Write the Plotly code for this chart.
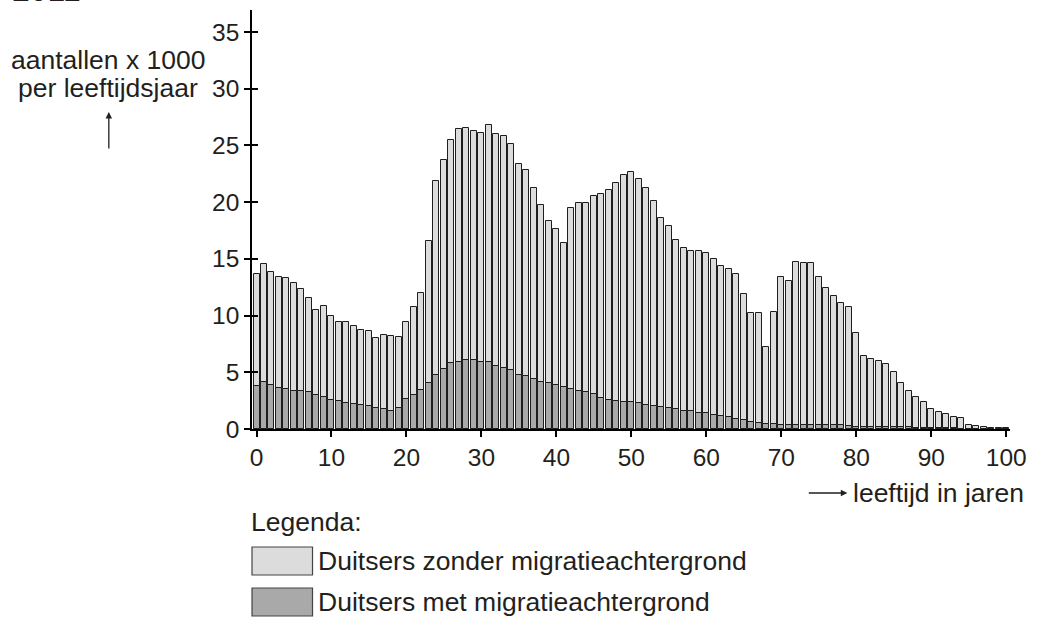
import plotly.graph_objects as go

ages = list(range(0, 101))

zonder = [
    13.66, 14.52, 13.81, 13.40, 13.31, 12.90, 12.34, 11.52, 10.52, 10.81,
    9.93, 9.40, 9.40, 9.08, 8.70, 8.61, 8.02, 8.26, 8.17, 8.08,
    9.40, 10.72, 12.02, 16.57, 21.89, 23.69, 25.51, 26.42, 26.56, 26.30,
    26.07, 26.77, 25.98, 25.86, 25.13, 23.39, 22.86, 21.27, 19.72, 18.31,
    17.63, 16.43, 19.51, 19.92, 19.92, 20.51, 20.69, 21.07, 21.72, 22.39,
    22.63, 22.07, 21.25, 20.13, 18.63, 17.93, 16.63, 15.98, 15.66, 15.66,
    15.49, 14.96, 14.40, 14.08, 13.64, 11.93, 10.25, 10.25, 7.20, 10.34,
    13.43, 13.05, 14.72, 14.66, 14.66, 13.43, 12.43, 11.70, 11.08, 10.76,
    8.49, 6.44, 6.17, 6.02, 5.70, 5.05, 4.06, 3.38, 2.82, 2.35,
    1.79, 1.47, 1.35, 1.09, 0.94, 0.35, 0.25, 0.15, 0.12, 0.10,
    0.08,
]

met = [
    3.76, 4.11, 3.88, 3.64, 3.53, 3.35, 3.35, 3.23, 2.97, 2.79,
    2.53, 2.50, 2.29, 2.20, 2.15, 2.03, 1.88, 1.73, 1.56, 1.88,
    2.63, 2.98, 3.45, 4.05, 4.79, 5.29, 5.79, 5.94, 6.05, 6.08,
    5.91, 5.91, 5.53, 5.41, 5.17, 4.79, 4.70, 4.38, 4.17, 4.03,
    3.88, 3.67, 3.53, 3.38, 3.23, 3.06, 2.71, 2.56, 2.50, 2.41,
    2.41, 2.32, 2.15, 2.03, 1.97, 1.85, 1.79, 1.59, 1.56, 1.44,
    1.38, 1.21, 1.15, 1.09, 0.91, 0.75, 0.62, 0.57, 0.48, 0.40,
    0.38, 0.38, 0.38, 0.38, 0.38, 0.38, 0.38, 0.35, 0.32, 0.26,
    0.21, 0.20, 0.18, 0.15, 0.15, 0.15, 0.15, 0.15, 0.12, 0.10,
    0.08, 0.07, 0.06, 0.05, 0.04, 0.03, 0.02, 0.02, 0.02, 0.02,
    0.02,
]

x_ticks = [0, 10, 20, 30, 40, 50, 60, 70, 80, 90, 100]
y_ticks = [0, 5, 10, 15, 20, 25, 30, 35]

name_zonder = "Duitsers zonder migratieachtergrond"
name_met = "Duitsers met migratieachtergrond"

LIGHT = "#dcdcdc"
DARK = "#a9a9a9"
EDGE = "#1e1e1e"
TXT = "#231f20"
FONT = "Liberation Sans, Arial, sans-serif"
TS = 26.5  # annotation text size

W, H = 1037, 619
L, R, T, B = 252, 21, 10, 190
PW, PH = W - L - R, H - T - B


def px(xp):
    return (xp - L) / PW


def py(yp):
    return (H - B - yp) / PH


fig = go.Figure()
fig.add_trace(go.Bar(x=ages, y=zonder, name=name_zonder, width=0.8,
                     marker=dict(color=LIGHT, line=dict(color=EDGE, width=1)),
                     showlegend=False))
fig.add_trace(go.Bar(x=ages, y=met, name=name_met, width=0.8,
                     marker=dict(color=DARK, line=dict(color=EDGE, width=1)),
                     showlegend=False))
# helper trace so the inner-tick axis is drawn
fig.add_trace(go.Scatter(x=[None], y=[None], yaxis="y2", showlegend=False,
                         hoverinfo="skip"))

fig.update_layout(
    width=W, height=H, autosize=False,
    margin=dict(l=L, r=R, t=T, b=B, pad=0),
    paper_bgcolor="white", plot_bgcolor="white",
    barmode="overlay", bargap=0,
    font=dict(family=FONT, size=TS, color=TXT),
    xaxis=dict(range=[-0.6, 100.5], tickvals=x_ticks, ticks="outside",
               ticklen=6, tickwidth=1.5, tickcolor="black",
               showline=True, linecolor="black", linewidth=1.5,
               showgrid=False, zeroline=False, tickfont=dict(size=24.5)),
    yaxis=dict(range=[0, 36.94], tickvals=y_ticks, ticks="outside",
               ticklen=6, tickwidth=1.5, tickcolor="black",
               showline=True, linecolor="black", linewidth=1.5,
               showgrid=False, zeroline=False, tickfont=dict(size=24.5)),
    yaxis2=dict(range=[0, 36.94], tickvals=y_ticks, ticks="inside",
                ticklen=6, tickwidth=1.5, tickcolor="black",
                overlaying="y", side="left", showticklabels=False,
                showline=False, showgrid=False, zeroline=False),
)

ann = []
# partially cut title at the very top
ann.append(dict(text="2011", xref="paper", yref="paper", x=px(8), y=py(-10),
                xanchor="left", yanchor="middle", showarrow=False,
                font=dict(size=32)))
ann.append(dict(text="aantallen x 1000", xref="paper", yref="paper",
                x=px(107), y=py(60), xanchor="center", yanchor="middle",
                showarrow=False))
ann.append(dict(text="per leeftijdsjaar", xref="paper", yref="paper",
                x=px(107), y=py(88), xanchor="center", yanchor="middle",
                showarrow=False))
# up arrow
ann.append(dict(text="", xref="paper", yref="paper", x=px(107.7), y=py(112),
                ax=0, ay=38, showarrow=True, arrowhead=2, arrowsize=1,
                arrowwidth=1.3, arrowcolor=TXT))
# right arrow + x label
ann.append(dict(text="", xref="paper", yref="paper", x=px(852), y=py(493),
                ax=-40, ay=0, showarrow=True, arrowhead=2, arrowsize=1,
                arrowwidth=1.3, arrowcolor=TXT))
ann.append(dict(text="leeftijd in jaren", xref="paper", yref="paper",
                x=px(856), y=py(493), xanchor="left", yanchor="middle",
                showarrow=False))
ann.append(dict(text="Legenda:", xref="paper", yref="paper",
                x=px(249), y=py(522), xanchor="left", yanchor="middle",
                showarrow=False))
ann.append(dict(text=name_zonder, xref="paper", yref="paper",
                x=px(317), y=py(561), xanchor="left", yanchor="middle",
                showarrow=False))
ann.append(dict(text=name_met, xref="paper", yref="paper",
                x=px(317), y=py(602), xanchor="left", yanchor="middle",
                showarrow=False))

shapes = [
    dict(type="rect", xref="paper", yref="paper", x0=px(252), x1=px(313),
         y0=py(575), y1=py(547), fillcolor=LIGHT,
         line=dict(color="#444444", width=1.2)),
    dict(type="rect", xref="paper", yref="paper", x0=px(252), x1=px(313),
         y0=py(616), y1=py(588), fillcolor=DARK,
         line=dict(color="#444444", width=1.2)),
]

fig.update_layout(annotations=ann, shapes=shapes)
fig.write_html("out.html",
               config={"displayModeBar": False},
               post_script="document.body.style.margin='0';"
                           "document.body.style.overflow='hidden';")
